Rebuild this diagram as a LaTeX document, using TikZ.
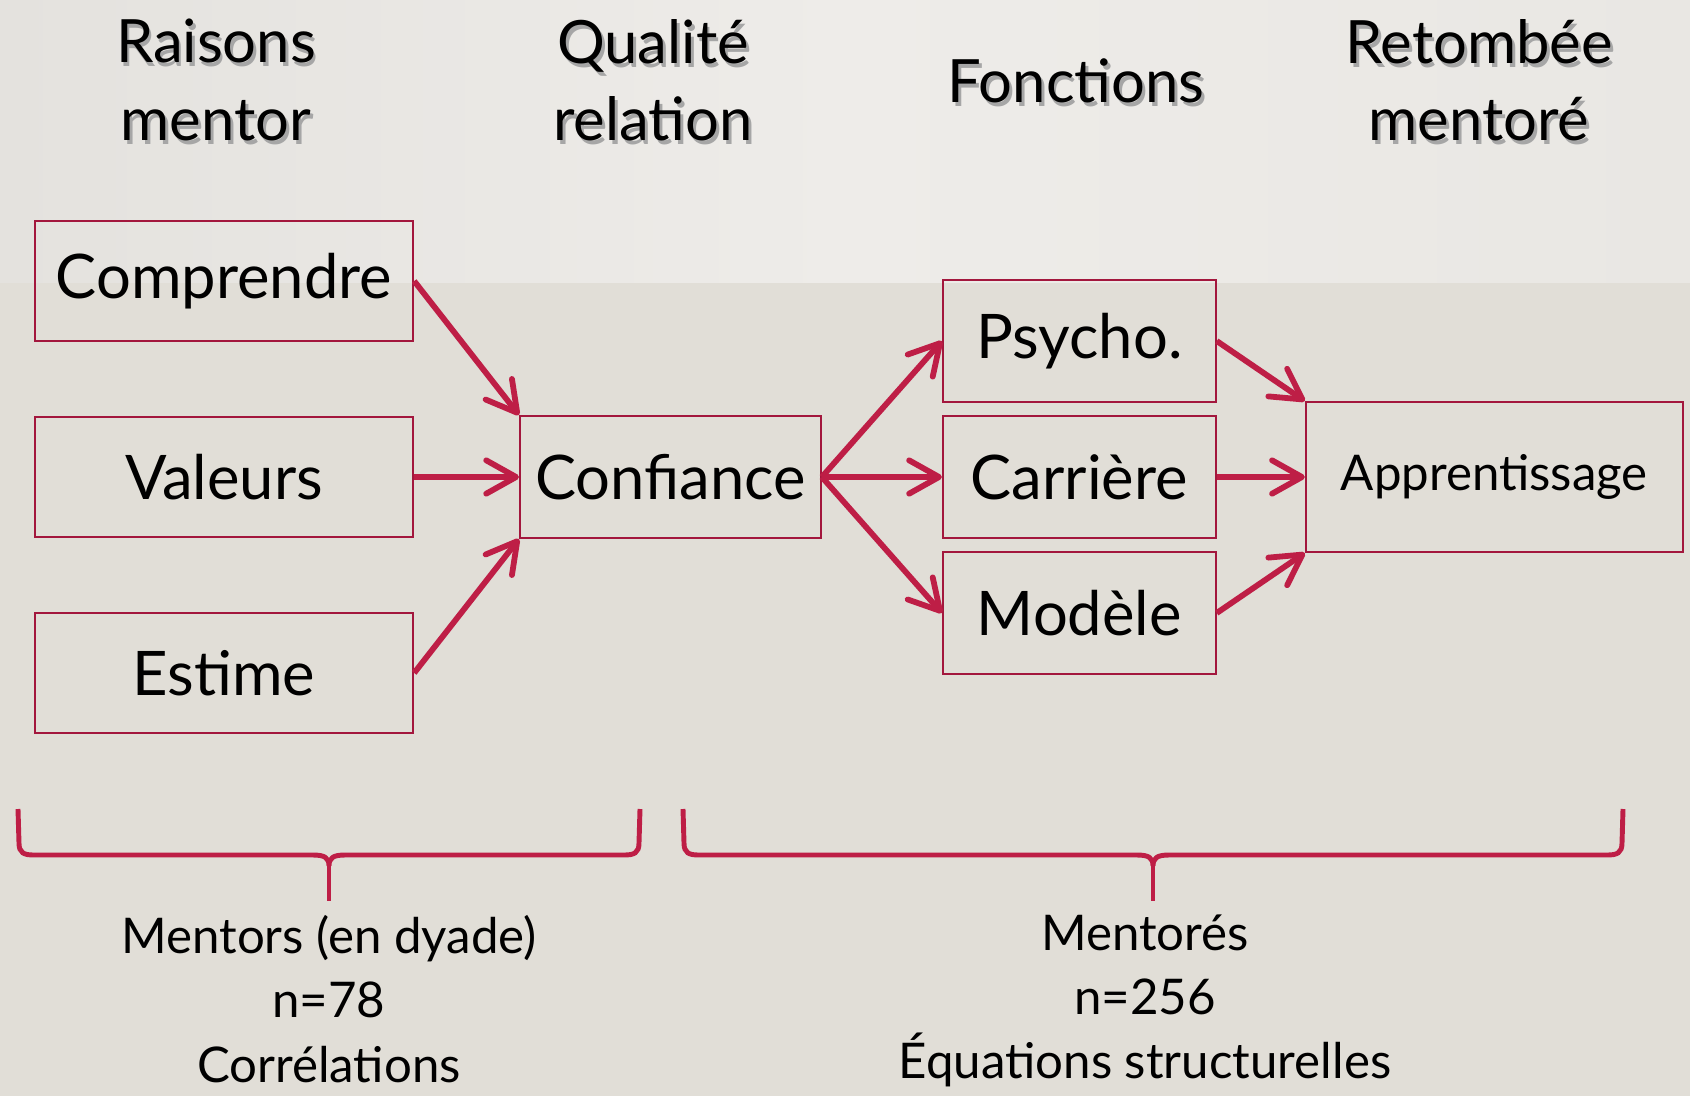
\documentclass[tikz,border=0pt]{standalone}
\usepackage{fontspec}
\setmainfont{Lato}
\usetikzlibrary{arrows.meta,positioning}
\definecolor{cramoisi}{HTML}{BE1E46}
\definecolor{bordure}{HTML}{A3173D}
\definecolor{fondbas}{HTML}{E1DED7}
\definecolor{fondgauche}{HTML}{E4E2DE}
\definecolor{fondmilieu}{HTML}{EEECE9}
\definecolor{fonddroite}{HTML}{E9E7E3}

\tikzset{
  boite/.style={draw=bordure, line width=1.1pt, minimum width=7.57cm, minimum height=2.4cm, inner sep=0pt, font=\fontsize{35}{42}\selectfont},
  fonction/.style={boite, minimum width=5.46cm, minimum height=2.44cm},
  fleche/.style={draw=cramoisi, line width=3.3pt, -{Straight Barb[length=17pt,width=19pt,round]}},
  entete/.style={align=center, font=\fontsize{34}{44}\selectfont},
  legende/.style={align=center, font=\fontsize{28}{36.5}\selectfont},
  accolade/.style={draw=cramoisi, line width=2.8pt}
}
% texte avec ombre portee
\newcommand{\ombre}[1]{\makebox[0pt][l]{\hspace{1.6pt}\raisebox{-2.2pt}{\color{black!35}#1}}#1}
% accolade : x gauche, x pointe, x droite
\newcommand{\accolade}[3]{%
  \draw[accolade] (#1,809) -- (#1+1,843) .. controls (#1+1,853) and (#1+6,855) .. (#1+16,855) -- (#2-16,855) .. controls (#2-4,855) and (#2,858) .. (#2,866) .. controls (#2,858) and (#2+4,855) .. (#2+16,855) -- (#3-16,855) .. controls (#3-6,855) and (#3-1,853) .. (#3-1,843) -- (#3,809);
  \draw[accolade] (#2,864) -- (#2,901);}

\begin{document}
\begin{tikzpicture}[x=0.02cm, y=-0.02cm, on grid]
\useasboundingbox (0,0) rectangle (1690,1096);
\fill[fondbas] (0,282) rectangle (1690,1096);
\shade[left color=fondgauche, right color=fonddroite, middle color=fondmilieu] (0,0) rectangle (1690,282);

\node[entete] (raisons) at (216,82) {\ombre{Raisons}\\\ombre{mentor}};
\node[entete] (qualite) at (653,82) {\ombre{Qualité}\\\ombre{relation}};
\node[entete] (fonctions) at (1076,83) {\ombre{Fonctions}};
\node[entete] (retombee) at (1479,82) {\ombre{Retombée}\\\ombre{mentoré}};

\node[boite] (valeurs) at (224,477) {Valeurs};
\node[boite] (comprendre) [above=3.92cm of valeurs] {Comprendre};
\node[boite] (estime) [below=3.92cm of valeurs] {Estime};
\node[boite, minimum width=6.02cm, minimum height=2.44cm] (confiance) [right=8.93cm of valeurs] {Confiance};
\node[fonction] (carriere) [right=8.18cm of confiance] {Carrière};
\node[fonction] (psycho) [above=2.72cm of carriere] {Psycho.};
\node[fonction] (modele) [below=2.72cm of carriere] {Modèle};
\node[boite, minimum width=7.54cm, minimum height=3cm, font=\fontsize{28}{34}\selectfont] (apprentissage) [right=8.3cm of carriere] {Apprentissage};

\draw[fleche] (comprendre.east) -- (confiance.north west);
\draw[fleche] (valeurs.east) -- (confiance.west);
\draw[fleche] (estime.east) -- (confiance.south west);
\draw[fleche] (confiance.east) -- (psycho.west);
\draw[fleche] (confiance.east) -- (carriere.west);
\draw[fleche] (confiance.east) -- (modele.west);
\draw[fleche] (psycho.east) -- (apprentissage.north west);
\draw[fleche] (carriere.east) -- (apprentissage.west);
\draw[fleche] (modele.east) -- (apprentissage.south west);

\accolade{18}{329}{640}
\accolade{683}{1153}{1623}

\node[legende] (mentors) at (329,999) {Mentors (en dyade)\\n=78\\Corrélations};
\node[legende] (mentores) at (1145,1001) {Mentorés\\n=256\\Équations structurelles};
\end{tikzpicture}
\end{document}
